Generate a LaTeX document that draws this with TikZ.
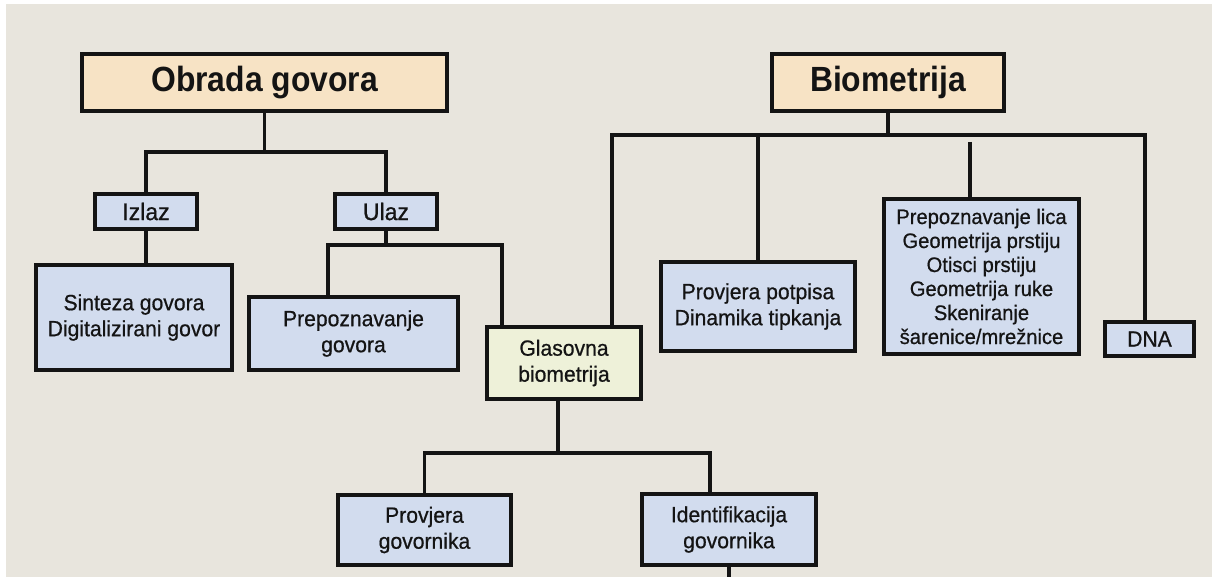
\documentclass[tikz,border=0pt]{standalone}
\usepackage{fontspec}
\setmainfont{Liberation Sans}[FakeBold=0.7, FakeStretch=0.96]
\newfontfamily\titlefont{Liberation Sans}[FakeStretch=0.91]
\usetikzlibrary{positioning,calc}

\definecolor{bgbeige}{HTML}{E8E5DD}
\definecolor{titlefill}{HTML}{F7E3C5}
\definecolor{itemfill}{HTML}{D2DCEE}
\definecolor{voicefill}{HTML}{EEF1D9}
\definecolor{inkline}{HTML}{141414}

\begin{document}
\begin{tikzpicture}[x=1pt,y=-1pt,
    box/.style={draw=inkline, line width=4pt, inner sep=0pt, align=center,
        text=inkline, font=\fontsize{22}{26}\selectfont},
    titlebox/.style={box, fill=titlefill, font=\titlefont\bfseries\fontsize{35}{40}\selectfont},
    itembox/.style={box, fill=itemfill},
    voicebox/.style={box, fill=voicefill},
    bigtext/.style={font=\fontsize{24}{28}\selectfont},
    link/.style={draw=inkline, line width=3.5pt}]
    % Background
    \useasboundingbox (0,0) rectangle (1212,577);
    \fill[white] (0,0) rectangle (1212,577);
    \fill[bgbeige] (6,4) rectangle (1212,577);

    % Main topics
    \node[titlebox, minimum width=365, minimum height=57] (obrada) at (264.5,82.5) {Obrada govora};
    \node[titlebox, minimum width=232, minimum height=57] (biom) at (888,82.5) {Biometrija};

    % Obrada govora branch
    \node[itembox, bigtext, minimum width=102, minimum height=35] (izlaz) at (146,211.5) {Izlaz};
    \node[itembox, bigtext, minimum width=102, minimum height=35] (ulaz) at (386,211.5) {Ulaz};
    \node[itembox, minimum width=196, minimum height=105] (sinteza) at (134,317.5) {Sinteza govora\\Digitalizirani govor};
    \node[itembox, minimum width=209, minimum height=73] (prepgov) at (353.5,333.5) {Prepoznavanje\\govora};

    % Glasovna biometrija
    \node[voicebox, minimum width=154, minimum height=72] (glas) at (564,363) {Glasovna\\biometrija};
    \node[itembox, minimum width=173, minimum height=70] (provgov) at (424.5,530) {Provjera\\govornika};
    \node[itembox, minimum width=174, minimum height=71] (ident) at (729,529.5) {Identifikacija\\govornika};

    % Biometrija branch
    \node[itembox, minimum width=194, minimum height=89] (potpis) at (758,306.5) {Provjera potpisa\\Dinamika tipkanja};
    \node[itembox, minimum width=195, minimum height=155, font=\fontsize{21}{24}\selectfont] (lica) at (981.5,276.5)
        {Prepoznavanje lica\\Geometrija prstiju\\Otisci prstiju\\Geometrija ruke\\Skeniranje\\šarenice/mrežnice};
    \node[itembox, minimum width=89, minimum height=34] (dna) at (1149.5,339) {DNA};

    % Links under Obrada govora
    \coordinate (obus) at (264.5,152);
    \draw[link] (obrada.south) -- (obus);
    \draw[link] (izlaz.north) |- (obus) -| (ulaz.north);
    \draw[link] (izlaz.south) -- (izlaz.south |- sinteza.north);
    \coordinate (ubusl) at (328,245);
    \coordinate (ubusr) at (502,245);
    \draw[link] (ulaz.south) -- (ulaz.south |- ubusl);
    \draw[link] (ubusl |- prepgov.north) -- (ubusl) -- (ubusr) -- (ubusr |- glas.north);

    % Links under Biometrija
    \coordinate (bbusl) at (612,135);
    \coordinate (bbusr) at (1145,135);
    \draw[link] (biom.south) -- (biom.south |- bbusl);
    \draw[link] (bbusl |- glas.north) -- (bbusl) -- (bbusr) -- (bbusr |- dna.north);
    \draw[link] (potpis.north) -- (potpis.north |- bbusl);
    \coordinate (licatop) at (970,142);
    \draw[link] (licatop) -- (licatop |- lica.north);

    % Links under Glasovna biometrija
    \coordinate (gbus) at (558,453);
    \coordinate (gbusr) at (710,453);
    \draw[link] (gbus |- glas.south) -- (gbus);
    \draw[link] (provgov.north) |- (gbusr) -- (gbusr |- ident.north);
    \coordinate (exitpt) at (729,580);
    \draw[link] (ident.south) -- (exitpt);
\end{tikzpicture}
\end{document}
